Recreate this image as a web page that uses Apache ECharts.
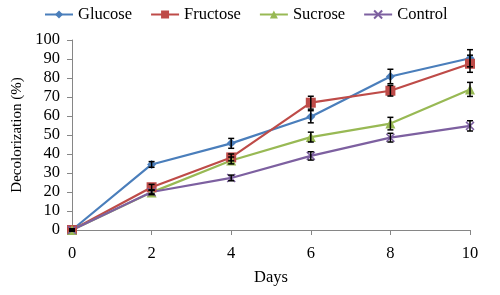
<!DOCTYPE html>
<html><head><meta charset="utf-8">
<script src="https://cdn.jsdelivr.net/npm/echarts@6/dist/echarts.min.js"></script>
<style>html,body{margin:0;padding:0;background:#fff}#c{width:500px;height:295px}</style>
</head><body><div id="c"></div>
<script>
const days = [0, 2, 4, 6, 8, 10];
const seriesNames = ['Glucose', 'Fructose', 'Sucrose', 'Control'];
const glucose = [0, 34.5, 45.6, 59.6, 80.8, 90.4];
const fructose = [0, 22.5, 38.2, 67.0, 73.3, 87.5];
const sucrose = [0, 19.8, 36.6, 48.9, 56.0, 74.0];
const control = [0, 20.0, 27.4, 39.0, 48.6, 54.8];
const glucoseErr = [0.5, 1.5, 2.6, 3.2, 3.8, 4.5];
const fructoseErr = [0.5, 1.5, 1.8, 3.4, 2.8, 4.5];
const sucroseErr = [0.5, 1.2, 1.8, 2.6, 3.3, 3.7];
const controlErr = [0.5, 1.0, 1.5, 2.2, 2.3, 2.7];
const yTicks = [0, 100, 10];
const xTicks = [0, 10, 2];

const colors = ['#4a7ebb', '#be4b48', '#98b954', '#7d60a0'];
const values = [glucose, fructose, sucrose, control];
const errs = [glucoseErr, fructoseErr, sucroseErr, controlErr];
const symbols = ['diamond', 'rect', 'triangle', 'path://M0,0L10,10M10,0L0,10'];
const symSizes = [9, 10, 10, 8];

const chart = echarts.init(document.getElementById('c'), null, {renderer: 'canvas'});
const font = 'Liberation Serif';
const fs = 16.5;

const series = [];
values.forEach((vals, i) => {
  series.push({
    name: seriesNames[i], type: 'line', data: days.map((d, k) => [d, vals[k]]),
    symbol: symbols[i], symbolSize: symSizes[i], showAllSymbol: true,
    lineStyle: {color: colors[i], width: 2.2},
    itemStyle: i === 3 ? {color: colors[i], borderColor: colors[i], borderWidth: 1.5} : {color: colors[i], borderWidth: 0},
    z: 3, animation: false
  });
});
values.forEach((vals, i) => {
  series.push({
    type: 'custom', silent: true, z: 4, animation: false,
    data: days.map((d, k) => [d, vals[k] - errs[i][k], vals[k] + errs[i][k]]),
    renderItem: function (params, api) {
      const lo = api.coord([api.value(0), api.value(1)]);
      const hi = api.coord([api.value(0), api.value(2)]);
      const w = 3;
      const st = {stroke: '#000', lineWidth: 1.5};
      return {type: 'group', children: [
        {type: 'line', shape: {x1: lo[0], y1: lo[1], x2: hi[0], y2: hi[1]}, style: st},
        {type: 'line', shape: {x1: lo[0] - w, y1: lo[1], x2: lo[0] + w, y2: lo[1]}, style: st},
        {type: 'line', shape: {x1: hi[0] - w, y1: hi[1], x2: hi[0] + w, y2: hi[1]}, style: st}
      ]};
    }
  });
});

chart.setOption({
  animation: false,
  color: colors,
  textStyle: {fontFamily: font},
  legend: {
    data: seriesNames, top: 1, left: 39, itemWidth: 28, itemHeight: 10, itemGap: 18,
    textStyle: {fontFamily: font, fontSize: fs, color: '#000'}
  },
  grid: {left: 72, right: 30, top: 40, bottom: 65},
  xAxis: {
    type: 'value', min: xTicks[0], max: xTicks[1], interval: xTicks[2],
    name: 'Days', nameLocation: 'middle', nameGap: 39,
    nameTextStyle: {fontFamily: font, fontSize: fs, color: '#000'},
    axisLine: {lineStyle: {color: '#868686', width: 1}},
    axisTick: {show: true, inside: false, length: 5, lineStyle: {color: '#868686'}},
    axisLabel: {fontFamily: font, fontSize: fs, color: '#000', margin: 15},
    splitLine: {show: false}
  },
  yAxis: {
    type: 'value', min: yTicks[0], max: yTicks[1], interval: yTicks[2],
    name: 'Decolorization (%)', nameLocation: 'middle', nameGap: 45, nameRotate: 90,
    nameTextStyle: {fontFamily: font, fontSize: 15, color: '#000'},
    axisLine: {show: true, lineStyle: {color: '#868686', width: 1}},
    axisTick: {show: true, inside: false, length: 5, lineStyle: {color: '#868686'}},
    axisLabel: {fontFamily: font, fontSize: fs, color: '#000', margin: 12},
    splitLine: {show: false}
  },
  series: series
});
</script></body></html>
